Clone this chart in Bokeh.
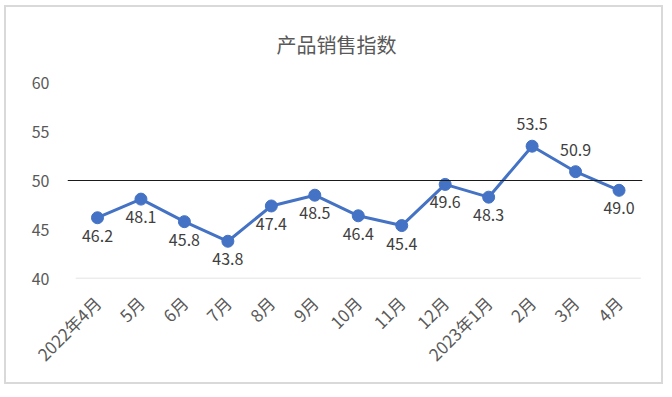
import math
from bokeh.plotting import figure
from bokeh.models import FixedTicker, Span, ColumnDataSource
from bokeh.core.properties import value
from bokeh.embed import file_html
from bokeh.resources import INLINE

# ---- data ----
months = ["2022年4月", "5月", "6月", "7月", "8月", "9月", "10月", "11月",
          "12月", "2023年1月", "2月", "3月", "4月"]
sales_index = [46.2, 48.1, 45.8, 43.8, 47.4, 48.5, 46.4, 45.4, 49.6, 48.3, 53.5, 50.9, 49.0]
y_ticks = [40, 45, 50, 55, 60]
reference_level = 50
title_text = "产品销售指数"

# ---- style ----
FONT = "Noto Sans CJK SC"
BLUE = "#4472C4"
label_side = ["below"] * len(sales_index)
label_side[10] = "above"
label_side[11] = "above"

xs = list(range(len(months)))
label_offsets = [-22 if s == "above" else 18 for s in label_side]
src = ColumnDataSource(dict(x=xs, y=sales_index,
                            txt=[f"{v:.1f}" for v in sales_index],
                            off=label_offsets))

p = figure(width=659, height=379, output_backend="svg", toolbar_location=None,
           x_range=(-0.69, 12.54), y_range=(40, 60),
           min_border_left=61, min_border_right=23,
           min_border_top=75, min_border_bottom=108,
           title=title_text,
           styles={"border": "2px solid #D9D9D9", "margin-left": "4px",
                   "margin-top": "5px"})
p.title.align = "left"
p.title.vertical_align = "top"
p.title.text_font = FONT
p.title.text_font_size = "20px"
p.title.text_font_style = "normal"
p.title.text_color = "#595959"
p.title.offset = 209
p.title.standoff = 43
p.outline_line_color = None
p.background_fill_color = "white"
p.border_fill_color = "white"
p.xgrid.visible = False
p.ygrid.visible = False

# axes
p.yaxis.ticker = FixedTicker(ticks=y_ticks)
p.yaxis.axis_line_color = None
p.yaxis.major_tick_line_color = None
p.yaxis.minor_tick_line_color = None
p.yaxis.major_label_text_font = FONT
p.yaxis.major_label_text_font_size = "16px"
p.yaxis.major_label_text_color = "#595959"
p.yaxis.major_label_standoff = 12

p.xaxis.ticker = FixedTicker(ticks=xs)
p.xaxis.major_label_overrides = {i: m for i, m in enumerate(months)}
p.xaxis.axis_line_color = None
p.xaxis.major_tick_line_color = None
p.xaxis.minor_tick_line_color = None
p.xaxis.major_label_orientation = math.pi / 4
p.xaxis.major_label_text_font = FONT
p.xaxis.major_label_text_font_size = "17px"
p.xaxis.major_label_text_color = "#595959"
p.xaxis.major_label_standoff = 15

# baseline at 40 (category band edges)
p.segment(x0=[-0.5], y0=[y_ticks[0]], x1=[len(months) - 0.5], y1=[y_ticks[0]],
          line_color="#D9D9D9", line_width=1.5)

# reference line at 50
p.add_layout(Span(location=reference_level, dimension="width",
                  line_color="#1a1a1a", line_width=1.2))

# series
p.line("x", "y", source=src, line_color=BLUE, line_width=3)
p.scatter("x", "y", source=src, size=12, fill_color=BLUE, line_color=BLUE)
p.text("x", "y", text="txt", source=src, y_offset="off",
       text_align="center", text_baseline="middle",
       text_font=value(FONT), text_font_size="16px", text_color="#404040")

open("out.html", "w").write(file_html(p, INLINE))
